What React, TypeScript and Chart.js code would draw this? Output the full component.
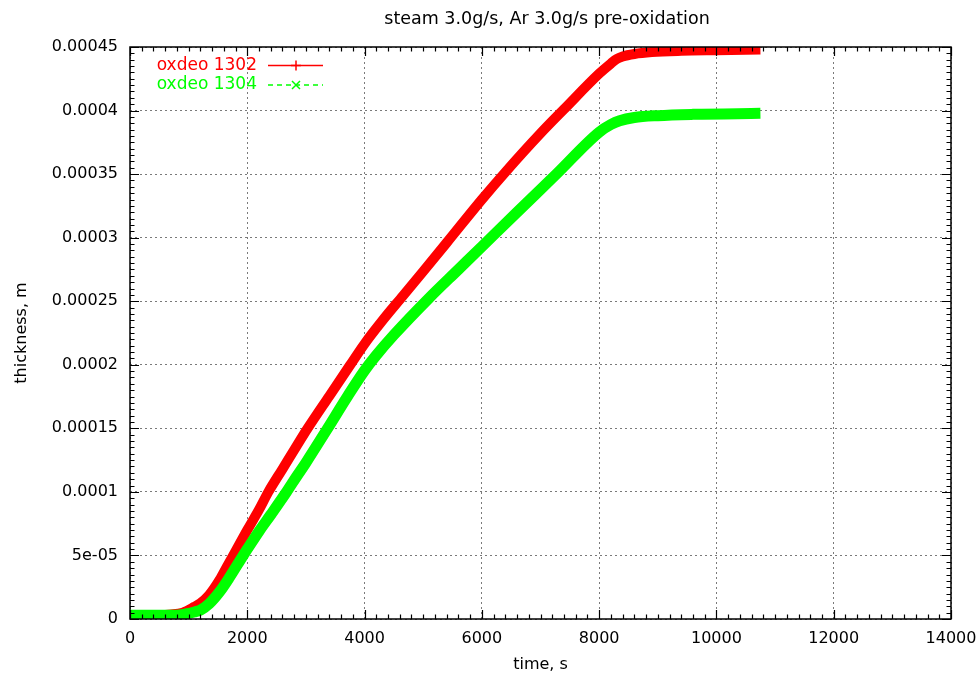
import React, { useEffect, useRef } from "react";
import { Chart, registerables } from "chart.js";

Chart.register(...registerables);

const chartTitle = "steam 3.0g/s, Ar 3.0g/s pre-oxidation";
const xAxisTitle = "time, s";
const yAxisTitle = "thickness, m";

const seriesNames = ["oxdeo 1302", "oxdeo 1304"];
const seriesColors = ["#ff0000", "#00ff00"];

const redTime = [0, 500, 700, 900, 1100, 1200, 1350, 1530, 1650, 1760, 1880, 2000, 2200, 2360, 2600, 2840, 3030, 3400, 3750, 4000, 4300, 4650, 5000, 5400, 6000, 6400, 7000, 7400, 8000, 8200, 8300, 8400, 8600, 8900, 9400, 10000, 10750];
const redThickness = [3e-6, 3e-6, 3.5e-6, 5e-6, 9.7e-6, 1.25e-5, 1.9e-5, 3.1e-5, 4.1e-5, 5e-5, 6e-5, 7e-5, 8.6e-5, 1e-4, 1.18e-4, 1.36e-4, 1.5e-4, 1.755e-4, 1.995e-4, 2.165e-4, 2.345e-4, 2.54e-4, 2.735e-4, 2.96e-4, 3.3e-4, 3.515e-4, 3.82e-4, 4.01e-4, 4.29e-4, 4.37e-4, 4.405e-4, 4.425e-4, 4.445e-4, 4.46e-4, 4.47e-4, 4.475e-4, 4.48e-4];

const greenTime = [0, 800, 950, 1100, 1200, 1350, 1530, 1700, 1930, 2000, 2200, 2400, 2670, 2840, 3000, 3370, 3700, 4000, 4200, 4500, 5100, 5600, 6000, 6600, 7270, 8000, 8200, 8350, 8600, 9000, 9600, 10750];
const greenThickness = [3e-6, 3e-6, 4e-6, 5.5e-6, 7e-6, 1.2e-5, 2.15e-5, 3.3e-5, 5e-5, 5.5e-5, 6.9e-5, 8.2e-5, 1e-4, 1.12e-4, 1.23e-4, 1.5e-4, 1.745e-4, 1.955e-4, 2.075e-4, 2.235e-4, 2.525e-4, 2.75e-4, 2.93e-4, 3.2e-4, 3.5e-4, 3.83e-4, 3.89e-4, 3.92e-4, 3.945e-4, 3.96e-4, 3.97e-4, 3.978e-4];

const xTickLabels = ["0", "2000", "4000", "6000", "8000", "10000", "12000", "14000"];
const yTickLabels = ["0", "5e-05", "0.0001", "0.00015", "0.0002", "0.00025", "0.0003", "0.00035", "0.0004", "0.00045"];

const X_MAX = 14000;
const X_STEP = 2000;
const X_MINOR = 200;
const Y_MAX = 0.00045;
const Y_STEP = 0.00005;
const Y_MINOR_PER_MAJOR = 10;

const FONT = "DejaVu Sans";

const decorPlugin = {
  id: "gnuplotDecor",
  afterDraw(chart: any) {
    const { ctx, chartArea } = chart;
    const { left, right, top, bottom } = chartArea;
    const xs = chart.scales.x;
    const ys = chart.scales.y;
    ctx.save();
    // frame
    ctx.strokeStyle = "#000";
    ctx.lineWidth = 1.5;
    ctx.strokeRect(left, top, right - left, bottom - top);
    // ticks on all four sides
    ctx.lineWidth = 1.2;
    ctx.beginPath();
    for (let v = 0; v <= X_MAX; v += X_MINOR) {
      const px = Math.round(xs.getPixelForValue(v)) + 0.5;
      const len = v % X_STEP === 0 ? 9 : 4.5;
      ctx.moveTo(px, bottom);
      ctx.lineTo(px, bottom - len);
      ctx.moveTo(px, top);
      ctx.lineTo(px, top + len);
    }
    const nY = Math.round(Y_MAX / Y_STEP) * Y_MINOR_PER_MAJOR;
    for (let i = 0; i <= nY; i++) {
      const v = (i * Y_STEP) / Y_MINOR_PER_MAJOR;
      const py = Math.round(ys.getPixelForValue(v)) + 0.5;
      const len = i % Y_MINOR_PER_MAJOR === 0 ? 9 : 4.5;
      ctx.moveTo(left, py);
      ctx.lineTo(left + len, py);
      ctx.moveTo(right, py);
      ctx.lineTo(right - len, py);
    }
    ctx.stroke();

    // titles
    ctx.fillStyle = "#000";
    ctx.font = `17.5px '${FONT}'`;
    ctx.textAlign = "center";
    ctx.textBaseline = "middle";
    ctx.fillText(chartTitle, 547, 19);
    ctx.font = `16px '${FONT}'`;
    ctx.fillText(xAxisTitle, (left + right) / 2, 665);
    ctx.save();
    ctx.translate(22, 333);
    ctx.rotate(-Math.PI / 2);
    ctx.fillText(yAxisTitle, 0, 0);
    ctx.restore();

    // legend
    const rows = [65.5, 85];
    ctx.font = `17px '${FONT}'`;
    ctx.textAlign = "right";
    for (let k = 0; k < 2; k++) {
      const y = rows[k];
      ctx.fillStyle = seriesColors[k];
      ctx.fillText(seriesNames[k], 257, y);
      ctx.strokeStyle = seriesColors[k];
      ctx.lineWidth = 1.5;
      ctx.setLineDash(k === 0 ? [] : [5, 4]);
      ctx.beginPath();
      ctx.moveTo(268, y);
      ctx.lineTo(323, y);
      ctx.stroke();
      ctx.setLineDash([]);
      ctx.beginPath();
      const mx = 296;
      if (k === 0) {
        ctx.moveTo(mx, y - 5);
        ctx.lineTo(mx, y + 5);
        ctx.moveTo(mx - 5, y);
        ctx.lineTo(mx + 5, y);
      } else {
        ctx.moveTo(mx - 4, y - 4);
        ctx.lineTo(mx + 4, y + 4);
        ctx.moveTo(mx - 4, y + 4);
        ctx.lineTo(mx + 4, y - 4);
      }
      ctx.stroke();
    }
    ctx.restore();
  },
};

export default function App() {
  const canvasRef = useRef<HTMLCanvasElement | null>(null);

  useEffect(() => {
    if (!canvasRef.current) return;
    const redData = redTime.map((t, i) => ({ x: t, y: redThickness[i] }));
    const greenData = greenTime.map((t, i) => ({ x: t, y: greenThickness[i] }));
    const chart = new Chart(canvasRef.current, {
      type: "line",
      data: {
        datasets: [
          {
            label: seriesNames[0],
            data: redData,
            borderColor: seriesColors[0],
            backgroundColor: seriesColors[0],
            borderWidth: 10,
            pointRadius: 0,
            cubicInterpolationMode: "monotone",
            borderCapStyle: "butt",
            order: 1,
          },
          {
            label: seriesNames[1],
            data: greenData,
            borderColor: seriesColors[1],
            backgroundColor: seriesColors[1],
            borderWidth: 11,
            pointRadius: 0,
            cubicInterpolationMode: "monotone",
            borderCapStyle: "butt",
            order: 0,
          },
        ],
      },
      options: {
        responsive: false,
        animation: false,
        layout: { padding: { top: 47, right: 29, bottom: 0, left: 0 } },
        plugins: {
          legend: { display: false },
          title: { display: false },
          tooltip: { enabled: false },
        },
        scales: {
          x: {
            type: "linear",
            min: 0,
            max: X_MAX,
            afterFit: (s: any) => {
              s.height = 58;
              s.paddingLeft = 0;
              s.paddingRight = 0;
            },
            ticks: {
              stepSize: X_STEP,
              color: "#000",
              padding: 10,
              font: { family: FONT, size: 16 },
              maxRotation: 0,
              callback: (_v: any, i: number) => xTickLabels[i],
            },
            grid: { color: "#7a7a7a", lineWidth: 1, drawTicks: false },
            border: { display: false, dash: [2, 3] },
          },
          y: {
            type: "linear",
            min: 0,
            max: Y_MAX,
            afterFit: (s: any) => {
              s.width = 130;
              s.paddingTop = 0;
              s.paddingBottom = 0;
            },
            ticks: {
              stepSize: Y_STEP,
              color: "#000",
              padding: 12,
              font: { family: FONT, size: 16 },
              callback: (_v: any, i: number) => yTickLabels[i],
            },
            grid: { color: "#7a7a7a", lineWidth: 1, drawTicks: false },
            border: { display: false, dash: [2, 3] },
          },
        },
      },
      plugins: [decorPlugin],
    });
    return () => chart.destroy();
  }, []);

  return (
    <div style={{ position: "absolute", left: 0, top: 0, width: 980, height: 677, background: "#fff" }}>
      <canvas ref={canvasRef} width={980} height={677} />
    </div>
  );
}
